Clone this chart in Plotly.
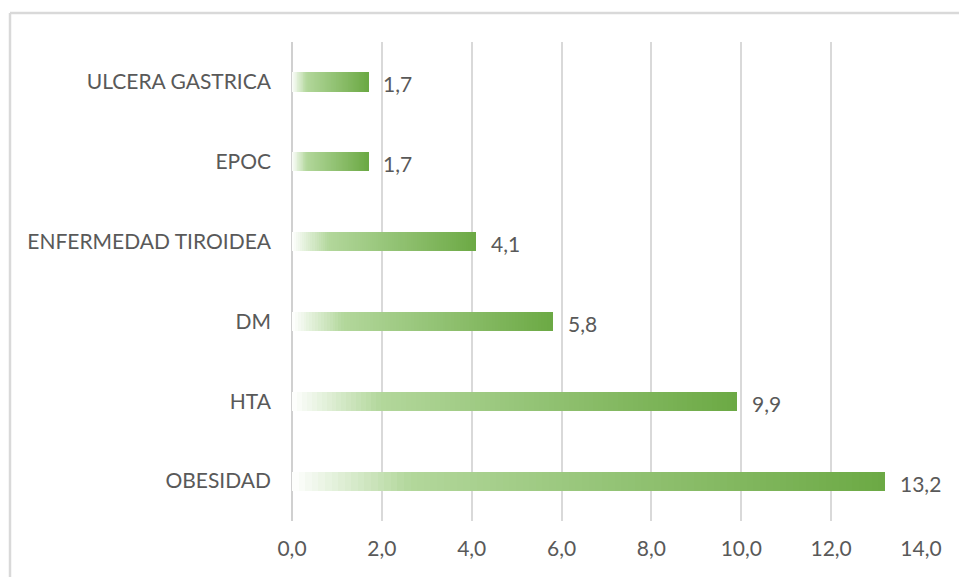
import plotly.graph_objects as go

categories = ["OBESIDAD", "HTA", "DM", "ENFERMEDAD TIROIDEA", "EPOC", "ULCERA GASTRICA"]
values = [13.2, 9.9, 5.8, 4.1, 1.7, 1.7]
value_labels = ["13,2", "9,9", "5,8", "4,1", "1,7", "1,7"]
tick_vals = [0, 2, 4, 6, 8, 10, 12, 14]
tick_text = ["0,0", "2,0", "4,0", "6,0", "8,0", "10,0", "12,0", "14,0"]

FONT = "Lato"
TXT = "#595959"
N = 90  # gradient slices per bar


def hex2rgb(h):
    h = h.lstrip("#")
    return tuple(int(h[i:i + 2], 16) for i in (0, 2, 4))


stops = [(0.0, hex2rgb("#ffffff")), (0.2, hex2rgb("#b2d79b")), (1.0, hex2rgb("#6ca944"))]


def grad(t):
    for (t0, c0), (t1, c1) in zip(stops[:-1], stops[1:]):
        if t <= t1:
            f = (t - t0) / (t1 - t0) if t1 > t0 else 0
            return "rgb(%d,%d,%d)" % tuple(round(a + (b - a) * f) for a, b in zip(c0, c1))
    return "rgb(%d,%d,%d)" % stops[-1][1]


ys, xs, bases, cols = [], [], [], []
for cat, v in zip(categories, values):
    step = v / N
    for k in range(N):
        ys.append(cat)
        xs.append(step * 1.02 if k < N - 1 else step)
        bases.append(step * k)
        cols.append(grad((k + 0.5) / N))

fig = go.Figure()
fig.add_trace(go.Bar(
    y=ys, x=xs, base=bases, orientation="h", width=0.24,
    marker=dict(color=cols, line=dict(width=0)),
    hoverinfo="skip", showlegend=False,
))

for cat, v, lab in zip(categories, values, value_labels):
    fig.add_annotation(x=v, y=cat, text=lab, showarrow=False, xanchor="left",
                       yanchor="middle", xshift=13, yshift=-2,
                       font=dict(family=FONT, size=21, color=TXT))

# outer chart border (top & left visible)
fig.add_shape(type="line", xref="paper", yref="paper",
              x0=(10 - 292) / 629, x1=1.2, y0=(577 - 13 - 56) / 479, y1=(577 - 13 - 56) / 479,
              line=dict(color="#d9d9d9", width=2.5))
fig.add_shape(type="line", xref="paper", yref="paper",
              x0=(10 - 292) / 629, x1=(10 - 292) / 629, y0=-0.2, y1=(577 - 13 - 56) / 479,
              line=dict(color="#d9d9d9", width=2.5))

fig.update_layout(
    width=959, height=577,
    margin=dict(l=292, r=38, t=42, b=56),
    paper_bgcolor="white", plot_bgcolor="white",
    barmode="overlay", bargap=0,
    font=dict(family=FONT, size=21, color=TXT),
    xaxis=dict(range=[0, 14], tickvals=tick_vals, ticktext=tick_text,
               showgrid=True, gridcolor="#d9d9d9", gridwidth=1.5,
               zeroline=True, zerolinecolor="#d0d0d0", zerolinewidth=2,
               showline=False, ticks="", ticklabelstandoff=13,
               tickfont=dict(family=FONT, size=21, color=TXT), fixedrange=True),
    yaxis=dict(categoryorder="array", categoryarray=categories, range=[-0.5, 5.5],
               showgrid=False, showline=False, ticks="", ticklabelstandoff=20,
               tickfont=dict(family=FONT, size=21, color=TXT), fixedrange=True),
)

fig.write_html("out.html")
